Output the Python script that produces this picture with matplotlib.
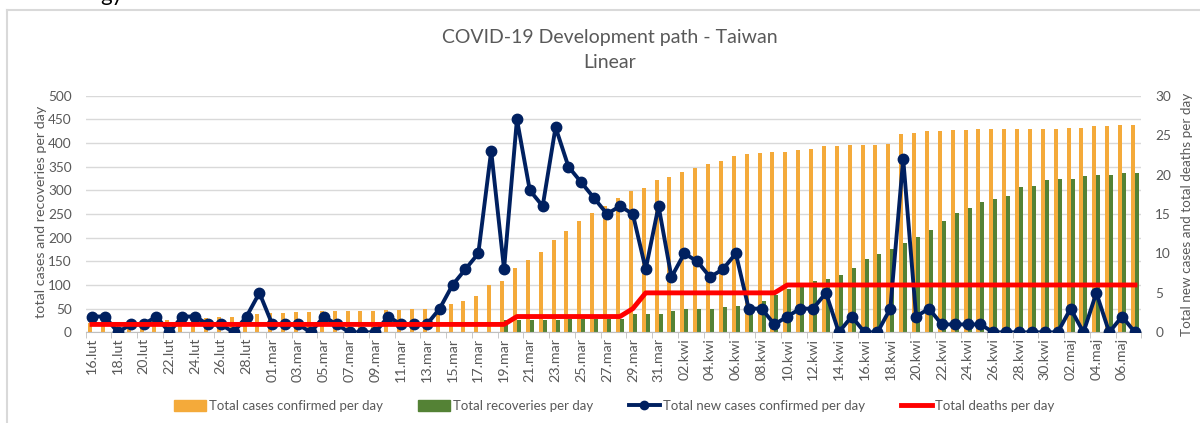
import pandas as pd
import numpy as np
import matplotlib
matplotlib.use('Agg')
import matplotlib.pyplot as plt
from matplotlib.lines import Line2D
from matplotlib.patches import Patch

plt.rcParams['font.family'] = ['Lato', 'DejaVu Sans']

# days from 16 Feb to 7 May
dates = pd.date_range('2020-02-16', '2020-05-07', freq='D')
month_names = {2: 'lut', 3: 'mar', 4: 'kwi', 5: 'maj'}

total_cases = [20, 22, 22, 23, 24, 26, 26, 28, 30, 31, 32, 32, 34, 39,
               40, 41, 42, 42, 44, 45, 45, 45, 45, 47, 48, 49, 50, 53, 59, 67,
               77, 100, 108, 135, 153, 169, 195, 215, 235, 252, 267, 283, 298, 306, 322,
               329, 339, 348, 355, 363, 373, 376, 379, 380, 382, 385, 388, 393, 393, 395,
               395, 395, 398, 420, 422, 425, 426, 427, 428, 429, 429, 429, 429, 429, 429,
               429, 432, 432, 436, 436, 438, 438]

total_recoveries = [0] * 32 + [26, 27, 27, 27, 27, 29, 29, 29, 29, 29, 39, 39, 39,
                               44, 50, 50, 50, 53, 56, 58, 66, 79, 91, 96,
                               108, 113, 122, 136, 155, 165, 177, 189, 201, 216, 235, 252, 263,
                               275, 281, 289, 307, 310, 322, 323, 323, 331, 332, 332, 337, 337]

new_cases = [2, 2, 0, 1, 1, 2, 0, 2, 2, 1, 1, 0, 2, 5,
             1, 1, 1, 0, 2, 1, 0, 0, 0, 2, 1, 1, 1, 3, 6, 8, 10, 23, 8, 27, 18, 16,
             26, 21, 19, 17, 15, 16, 15, 8, 16,
             7, 10, 9, 7, 8, 10, 3, 3, 1, 2, 3, 3, 5, 0, 2, 0, 0, 3, 22, 2, 3,
             1, 1, 1, 1, 0, 0, 0, 0, 0,
             0, 3, 0, 5, 0, 2, 0]

total_deaths = [1] * 33 + [2] * 9 + [3] + [5] * 11 + [6] * 28

labels = [f"{d.day:02d}.{month_names[d.month]}" for d in dates]

grey = '#595959'
orange = '#F4AA3A'
green = '#548235'
navy = '#002060'
red = '#FF0000'

fig = plt.figure(figsize=(12, 4.23), dpi=100)

# chart frame
fig.add_artist(Line2D([7 / 1200, 1], [1 - 10 / 423, 1 - 10 / 423], color='#D9D9D9', lw=1.5))
fig.add_artist(Line2D([7 / 1200, 7 / 1200], [0, 1 - 10 / 423], color='#D9D9D9', lw=1.5))
# leftover of a text line above the chart, cut by the top edge
fig.text(100 / 1200, 1.035, 'gy', fontsize=16, color='black', va='top', ha='left')

ax = fig.add_axes([85.6 / 1200, 1 - 332.3 / 423, (1141.4 - 85.6) / 1200, (332.3 - 95.7) / 423])
ax2 = ax.twinx()

x = np.arange(len(dates))
w = 0.31
ax.bar(x - w / 2, total_cases, width=w, color=orange, zorder=2)
ax.bar(x + w / 2, total_recoveries, width=w, color=green, zorder=2)

ax2.plot(x, new_cases, color=navy, lw=2.8, marker='o', markersize=7.5, zorder=3)
ax2.plot(x, total_deaths, color=red, lw=3.5, zorder=4)

ax.set_xlim(-0.5, len(dates) - 0.5)
ax.set_ylim(0, 500)
ax.set_yticks(range(0, 501, 50))
ax2.set_ylim(0, 30)
ax2.set_yticks(range(0, 31, 5))

ax.yaxis.grid(True, color='#D9D9D9', lw=1)
ax.set_axisbelow(True)

ax.set_xticks(x[::2])
ax.set_xticklabels(labels[::2], rotation=90)
ax.set_xticks(np.arange(-0.5, len(dates), 2), minor=True)
ax.tick_params(axis='x', which='major', length=0, pad=4, labelsize=10.3, labelcolor=grey)
ax.tick_params(axis='x', which='minor', length=4, color='#BFBFBF')
ax.tick_params(axis='y', length=0, labelsize=9.8, labelcolor=grey, pad=10)
ax2.tick_params(axis='y', length=0, labelsize=9.8, labelcolor=grey, pad=10)

for a in (ax, ax2):
    for s in ('top', 'left', 'right'):
        a.spines[s].set_visible(False)
ax.spines['bottom'].set_color('#BFBFBF')
ax2.spines['bottom'].set_visible(False)

ax.set_ylabel('total cases and recoveries per day', fontsize=10.3, color=grey)
ax2.set_ylabel('Total new cases and total deaths per day', fontsize=9.7, color=grey, labelpad=7)
ax.yaxis.set_label_coords(-0.037, 0.51)

fig.text(0.508, 1 - 37 / 423, 'COVID-19 Development path - Taiwan', fontsize=14,
         color=grey, ha='center', va='center')
fig.text(0.508, 1 - 63 / 423, 'Linear', fontsize=14, color=grey, ha='center', va='center')

handles = [
    Patch(color=orange),
    Patch(color=green),
    Line2D([], [], color=navy, lw=2.8, marker='o', markersize=6),
    Line2D([], [], color=red, lw=3.5),
]
names = ['Total cases confirmed per day', 'Total recoveries per day',
         'Total new cases confirmed per day', 'Total deaths per day']
fig.legend(handles, names, loc='center', bbox_to_anchor=(0.512, 1 - 406 / 423), ncol=4,
           frameon=False, fontsize=9.5, labelcolor=grey, handlelength=2.4,
           handletextpad=0.2, columnspacing=2.7, handleheight=0.9)

fig.savefig('out.png', dpi=100)
